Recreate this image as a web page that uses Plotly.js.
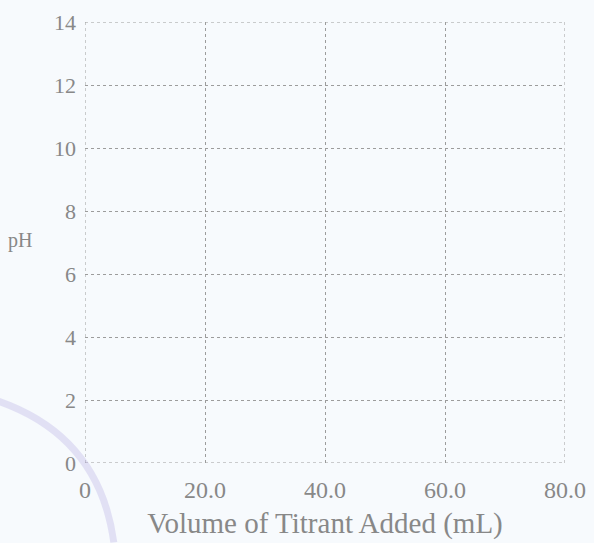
<!DOCTYPE html>
<html>
<head>
<meta charset="utf-8">
<script src="https://cdn.plot.ly/plotly-3.0.1.min.js"></script>
<style>html,body{margin:0;padding:0;background:#f7fafd;}</style>
</head>
<body>
<div id="chart" style="width:594px;height:543px;"></div>
<script>
// Blank titration grid: no measured data plotted
const volumes = [];
const phValues = [];
const xTickVals = [0, 20, 40, 60, 80];
const xTickText = ["0", "20.0", "40.0", "60.0", "80.0"];
const yTickVals = [0, 2, 4, 6, 8, 10, 12, 14];
const yTickText = ["0", "2", "4", "6", "8", "10", "12", "14"];
const xRange = [0, 80];
const yRange = [0, 14];

const trace = {
  x: volumes, y: phValues, type: 'scatter', mode: 'lines',
  line: {color: '#555'}, showlegend: false
};

const gridStyle = {color: '#9c9c9c', width: 1, dash: 'dot'};
const borderShapes = [
  {type: 'line', xref: 'x', yref: 'y', x0: xRange[0], x1: xRange[0], y0: yRange[0], y1: yRange[1], line: gridStyle, layer: 'below'},
  {type: 'line', xref: 'x', yref: 'y', x0: xRange[1], x1: xRange[1], y0: yRange[0], y1: yRange[1], line: gridStyle, layer: 'below'},
  {type: 'line', xref: 'x', yref: 'y', x0: xRange[0], x1: xRange[1], y0: yRange[0], y1: yRange[0], line: gridStyle, layer: 'below'},
  {type: 'line', xref: 'x', yref: 'y', x0: xRange[0], x1: xRange[1], y0: yRange[1], y1: yRange[1], line: gridStyle, layer: 'below'}
];

const layout = {
  width: 594, height: 543,
  margin: {l: 85, r: 29, t: 22, b: 80},
  paper_bgcolor: '#f7fafd',
  plot_bgcolor: '#f7fafd',
  font: {family: '"Liberation Serif", "DejaVu Serif", serif', color: '#888888', size: 22},
  showlegend: false,
  xaxis: {
    range: xRange, tickvals: xTickVals, ticktext: xTickText,
    tickfont: {size: 24},
    showgrid: true, gridcolor: '#9c9c9c', griddash: 'dot', gridwidth: 1,
    zeroline: false, showline: false, ticks: '', ticklabelstandoff: 10,
    title: {text: 'Volume of Titrant Added (mL)', font: {size: 29, color: '#888888'}, standoff: 10}
  },
  yaxis: {
    range: yRange, tickvals: yTickVals, ticktext: yTickText,
    tickfont: {size: 22},
    showgrid: true, gridcolor: '#9c9c9c', griddash: 'dot', gridwidth: 1,
    zeroline: false, showline: false, ticks: '', ticklabelstandoff: 8
  },
  annotations: [{
    text: 'pH', xref: 'paper', yref: 'paper', x: -0.135, y: 0.505,
    xanchor: 'center', yanchor: 'middle', showarrow: false,
    font: {size: 20, color: '#888888'}
  }],
  shapes: borderShapes.concat([{
    type: 'path', xref: 'paper', yref: 'paper',
    path: 'M -0.18 0.14 Q 0.03 0.06 0.06 -0.18',
    line: {color: 'rgba(175,165,225,0.3)', width: 7}
  }])
};

Plotly.newPlot('chart', [trace], layout, {displayModeBar: false, staticPlot: true});
</script>
</body>
</html>
